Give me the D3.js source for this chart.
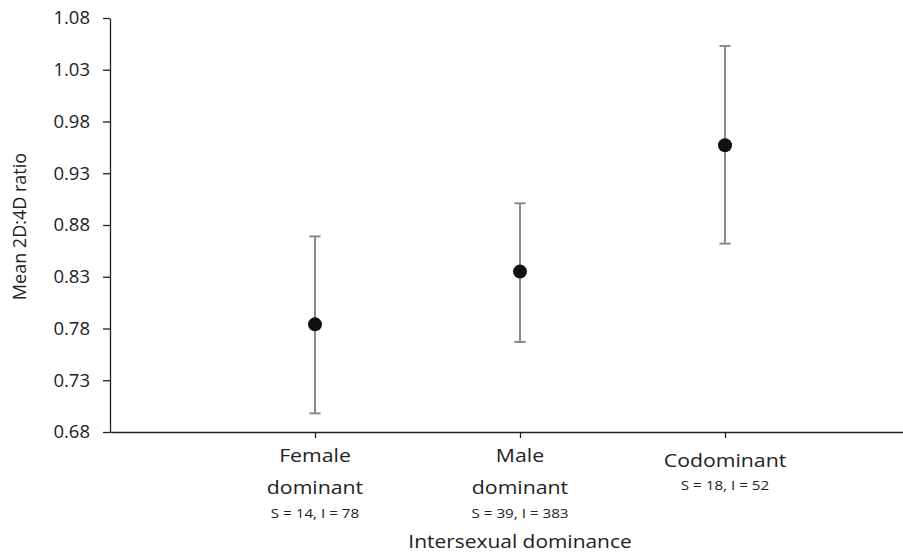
<!DOCTYPE html>
<html><head><meta charset="utf-8">
<script src="https://cdn.jsdelivr.net/npm/d3@7"></script>
<style>body{margin:0;background:#fff;} text{font-family:"Open Sans","Noto Sans",sans-serif;fill:#222;}</style>
</head><body>
<svg id="c" width="903" height="555"></svg>
<script>
const categories = ["Female dominant", "Male dominant", "Codominant"];
const labelLines = [["Female", "dominant"], ["Male", "dominant"], ["Codominant"]];
const sampleLabels = ["S = 14, I = 78", "S = 39, I = 383", "S = 18, I = 52"];
const means = [0.784, 0.835, 0.957];
const upper = [0.869, 0.901, 1.053];
const lower = [0.698, 0.767, 0.862];
const yTicks = [0.68, 0.73, 0.78, 0.83, 0.88, 0.93, 0.98, 1.03, 1.08];

const svg = d3.select("#c");
const x0 = 110;
const x = d3.scalePoint().domain(["_a", ...categories, "_b"]).range([x0, x0 + 4*205]);
const y = d3.scaleLinear().domain([0.68, 1.08]).range([432, 18]);

function label(px, py, txt, size, sx) {
  svg.append("text").attr("transform", `translate(${px},${py}) scale(${sx},1)`)
    .attr("text-anchor", "middle").attr("font-size", size).text(txt);
}

// y axis
const ya = svg.append("g").attr("transform", `translate(${x0},0)`)
  .call(d3.axisLeft(y).tickValues(yTicks).tickFormat(d3.format(".2f")).tickSize(7).tickSizeOuter(0));
ya.select(".domain").attr("stroke", "#222").attr("stroke-width", 1.3);
ya.selectAll(".tick line").attr("stroke", "#222").attr("stroke-width", 1.3);
ya.selectAll(".tick text").attr("font-size", 18.5).attr("x", -20).attr("fill", "#222")
  .attr("font-family", "'Open Sans','Noto Sans',sans-serif");

// x axis
const xa = svg.append("g").attr("transform", `translate(0,${y(0.68)})`)
  .call(d3.axisBottom(x).tickValues(categories).tickSize(6).tickSizeOuter(0).tickFormat(""));
xa.select(".domain").attr("stroke", "#222").attr("stroke-width", 1.3);
xa.selectAll(".tick line").attr("stroke", "#222").attr("stroke-width", 1.3);

// category labels
categories.forEach((c, i) => {
  const lines = labelLines[i];
  const two = lines.length === 2;
  const baseY = two ? 461.5 : 466.5;
  lines.forEach((l, j) => label(x(c), baseY + j*32.5, l, 19, 1.12));
  label(x(c), two ? 517.5 : 490, sampleLabels[i], 13, 1.17);
});

label(x(categories[1]), 548, "Intersexual dominance", 18.2, 1.15);
svg.append("text").attr("transform", `translate(25.5,226.5) rotate(-90)`).attr("text-anchor", "middle")
  .attr("font-size", 18).text("Mean 2D:4D ratio");

// error bars
const g = svg.append("g");
categories.forEach((c, i) => {
  const cx = x(c);
  g.append("line").attr("x1", cx).attr("x2", cx).attr("y1", y(upper[i])).attr("y2", y(lower[i]))
    .attr("stroke", "#8a8a8a").attr("stroke-width", 2);
  [upper[i], lower[i]].forEach(v => {
    g.append("line").attr("x1", cx-5.5).attr("x2", cx+5.5).attr("y1", y(v)).attr("y2", y(v))
      .attr("stroke", "#8a8a8a").attr("stroke-width", 2);
  });
  g.append("circle").attr("cx", cx).attr("cy", y(means[i])).attr("r", 7).attr("fill", "#111");
});
</script>
</body></html>
